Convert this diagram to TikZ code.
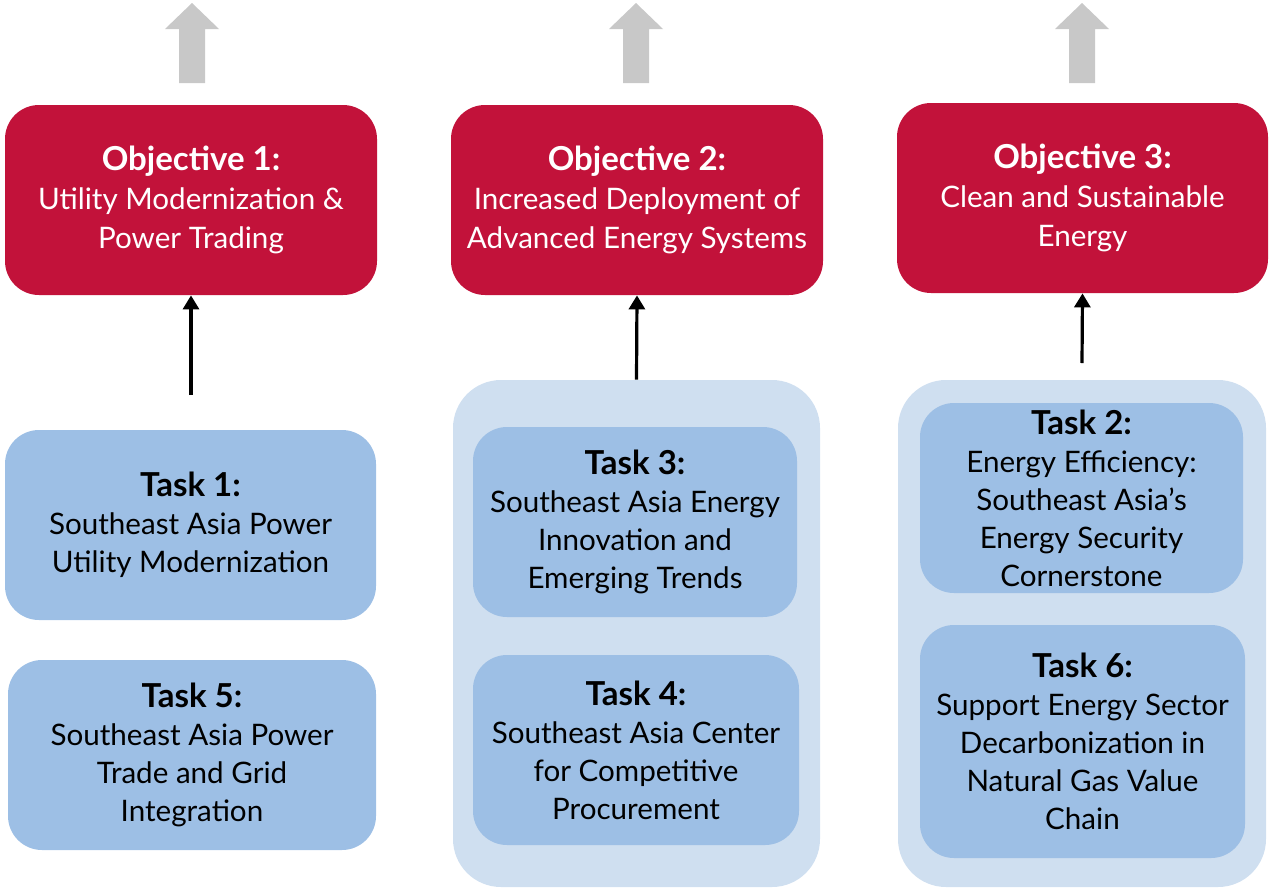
\documentclass[tikz,border=0pt]{standalone}
\usepackage{fontspec}
\setmainfont{Lato}
\usetikzlibrary{arrows.meta}
\definecolor{objred}{HTML}{C2123A}
\definecolor{contblue}{HTML}{CFDFF0}
\definecolor{taskblue}{HTML}{9DBFE5}
\definecolor{arrgray}{HTML}{C8C8C8}
\newcommand{\hd}[1]{{\fontsize{16.5}{19}\selectfont\bfseries #1}}
\tikzset{
  objbox/.style={fill=objred, rounded corners=17pt, text=white, align=center, font=\fontsize{14.8}{19.5}\selectfont, inner sep=0pt},
  taskbox/.style={fill=taskblue, rounded corners=17pt, text=black, align=center, font=\fontsize{14.8}{19}\selectfont, inner sep=0pt},
  contbox/.style={fill=contblue, rounded corners=24pt, inner sep=0pt},
  link/.style={draw=black, line width=1.6pt, -{Triangle[length=7pt,width=8pt]}},
}
\begin{document}
\begin{tikzpicture}[x=0.5pt,y=-0.5pt]
\useasboundingbox (0,0) rectangle (1269,889);
% gray arrows
\foreach \cx in {192,636,1082}{
  \fill[arrgray] (\cx-13,83) -- (\cx-13,29) -- (\cx-27,29) -- (\cx,3) -- (\cx+27,29) -- (\cx+13,29) -- (\cx+13,83) -- cycle;
}
% containers
\node[contbox, minimum width=183.5pt, minimum height=253.5pt] (c2) at (636.5,633.5) {};
\node[contbox, minimum width=184pt, minimum height=253.5pt] (c3) at (1082,633.5) {};
% objectives
\node[objbox, minimum width=186pt, minimum height=95pt] (o1) at (191,200) {\hd{Objective 1:}\\Utility Modernization \&\\Power Trading};
\node[objbox, minimum width=186pt, minimum height=95pt] (o2) at (637,200) {\hd{Objective 2:}\\Increased Deployment of\\Advanced Energy Systems};
\node[objbox, minimum width=185.5pt, minimum height=95pt] (o3) at (1082.5,198) {\hd{Objective 3:}\\Clean and Sustainable\\Energy};
% tasks
\node[taskbox, minimum width=185.5pt, minimum height=95pt] (t1) at (190.5,525) {\hd{Task 1:}\\Southeast Asia Power\\Utility Modernization};
\node[taskbox, minimum width=184pt, minimum height=95pt] (t5) at (192,755) {\hd{Task 5:}\\Southeast Asia Power\\Trade and Grid\\Integration};
\node[taskbox, minimum width=162pt, minimum height=95pt] (t3) at (635,522) {\hd{Task 3:}\\Southeast Asia Energy\\Innovation and\\Emerging Trends};
\node[taskbox, minimum width=163pt, minimum height=95pt] (t4) at (636,750) {\hd{Task 4:}\\Southeast Asia Center\\for Competitive\\Procurement};
\node[taskbox, minimum width=161.5pt, minimum height=95pt] (t2) at (1081.5,498) {\hd{Task 2:}\\Energy Efficiency:\\Southeast Asia's\\Energy Security\\Cornerstone};
\node[taskbox, minimum width=162.5pt, minimum height=116.5pt] (t6) at (1082.5,741.5) {\hd{Task 6:}\\Support Energy Sector\\Decarbonization in\\Natural Gas Value\\Chain};
% connectors
\coordinate (s1) at (191,395);
\coordinate (s3) at (1082,363);
\draw[link] (s1) -- (o1.south);
\draw[link] (c2.north) -- (o2.south);
\draw[link] (s3) -- (o3.south);
\end{tikzpicture}
\end{document}
